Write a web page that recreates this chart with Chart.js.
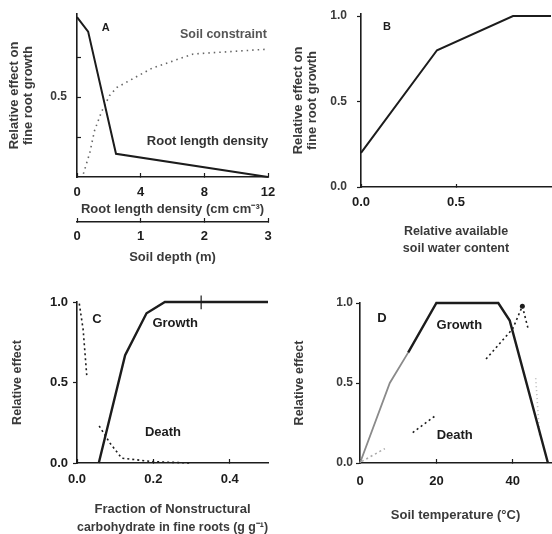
<!DOCTYPE html>
<html>
<head>
<title>Fine root growth response curves</title>
<style>
    html, body { margin: 0; padding: 0; background: #fff; overflow: hidden; }
    #wrap { position: relative; width: 552px; height: 534px; }
    canvas { position: absolute; }
    #panelA { left: 0; top: 0; }
    #panelB { left: 276px; top: 0; }
    #panelC { left: 0; top: 262px; }
    #panelD { left: 276px; top: 262px; }
</style>
</head>
<body>
<div id="wrap">
    <canvas id="panelA" width="276" height="267"></canvas>
    <canvas id="panelB" width="276" height="267"></canvas>
    <canvas id="panelC" width="276" height="280"></canvas>
    <canvas id="panelD" width="276" height="280"></canvas>
</div>

<script src="https://cdn.jsdelivr.net/npm/chart.js"></script>

<script>
    // ---- Panel A: root length density / soil depth
    const aRootX = [0, 0.7, 2.45, 12];
    const aRootY = [1.0, 0.91, 0.145, 0];
    const aSoilX = [0.4, 0.8, 1.1, 1.55, 2.05, 2.5, 4.7, 7.3, 12];
    const aSoilY = [0.02, 0.15, 0.29, 0.41, 0.51, 0.56, 0.68, 0.77, 0.8];
    const aXTicks = [0, 4, 8, 12];
    const aXLabels = ['0', '4', '8', '12'];
    const aDepthTicks = [0, 1, 2, 3];
    const aDepthLabels = ['0', '1', '2', '3'];
    const aYTicks = [0.25, 0.5, 0.75];
    const aYLabels = ['', '0.5', ''];

    // ---- Panel B: relative available soil water
    const bWaterX = [0, 0.4, 0.8, 1.0];
    const bWaterY = [0.2, 0.8, 1.0, 1.0];
    const bXTicks = [0, 0.5];
    const bXLabels = ['0.0', '0.5'];
    const bYTicks = [0, 0.5, 1];
    const bYLabels = ['0.0', '0.5', '1.0'];

    // ---- Panel C: nonstructural carbohydrate
    const cGrowthX = [0.057, 0.126, 0.182, 0.23, 0.5];
    const cGrowthY = [0, 0.67, 0.93, 1.0, 1.0];
    const cDeathTopX = [0.006, 0.016, 0.026];
    const cDeathTopY = [0.99, 0.83, 0.53];
    const cDeathX = [0.058, 0.086, 0.117, 0.2, 0.3];
    const cDeathY = [0.23, 0.125, 0.03, 0.008, 0];
    const cMarkX = [0.325, 0.325];
    const cMarkY = [0.955, 1.04];
    const cXTicks = [0, 0.2, 0.4];
    const cXLabels = ['0.0', '0.2', '0.4'];
    const cYTicks = [0, 0.5, 1];
    const cYLabels = ['0.0', '0.5', '1.0'];

    // ---- Panel D: soil temperature
    const dGrowLowX = [0, 7.8, 12.6];
    const dGrowLowY = [0, 0.5, 0.69];
    const dGrowX = [12.6, 20, 36.2, 39.2, 49.2];
    const dGrowY = [0.69, 1.0, 1.0, 0.89, 0];
    const dDeathLowX = [0.5, 6.5];
    const dDeathLowY = [0.01, 0.09];
    const dDeathMidX = [13.8, 20];
    const dDeathMidY = [0.19, 0.3];
    const dDeathHighX = [33, 40, 42.5, 44];
    const dDeathHighY = [0.65, 0.84, 0.98, 0.84];
    const dDeathEdgeX = [46, 47];
    const dDeathEdgeY = [0.53, 0.17];
    const dXTicks = [0, 20, 40];
    const dXLabels = ['0', '20', '40'];
    const dYTicks = [0, 0.5, 1];
    const dYLabels = ['0.0', '0.5', '1.0'];

    const INK = '#1c1c1c';
    const INK2 = '#3a3a3a';
    const FONT = '"Liberation Sans", Arial, Helvetica, sans-serif';
    const DOT = { borderDash: [2, 3], borderWidth: 1.6 };

    function pts(xs, ys) {
        return xs.map((x, i) => ({ x: x, y: ys[i] }));
    }

    function line(xs, ys, style) {
        return Object.assign({
            data: pts(xs, ys),
            borderColor: INK,
            borderWidth: 2.2,
            pointRadius: 0,
            tension: 0,
            fill: false,
            clip: false
        }, style || {});
    }

    // fixed-size axis so every plot area lands where the figure has it
    function axis(o) {
        return {
            type: 'linear',
            position: o.pos,
            weight: o.weight || 0,
            min: o.min,
            max: o.max,
            afterBuildTicks: s => { s.ticks = o.ticks.map(v => ({ value: v })); },
            afterFit: s => {
                if (s.isHorizontal()) s.height = o.size;
                else s.width = o.size;
                // don't let label padding push the plot area around
                s.paddingTop = s.paddingBottom = s.paddingLeft = s.paddingRight = 0;
            },
            border: { display: true, color: INK, width: 1.6 },
            grid: {
                display: true,
                drawOnChartArea: false,
                drawTicks: true,
                tickLength: o.tick,
                tickWidth: 1.2,
                tickColor: INK,
                color: INK
            },
            ticks: {
                autoSkip: false,
                maxRotation: 0,
                padding: o.pad,
                color: o.tickColor || INK,
                font: { family: FONT, size: o.tickSize || 13, weight: 'bold' },
                callback: (v, i) => o.labels[i]
            },
            title: {
                display: true,
                text: o.title,
                color: INK2,
                font: { family: FONT, size: o.titleSize || 13, weight: 'bold', lineHeight: o.titleLH || 1.2 },
                padding: o.titlePad
            }
        };
    }

    const textPlugin = {
        id: 'panelText',
        afterDatasetsDraw(chart, args, opts) {
            const { ctx, scales } = chart;
            ctx.save();
            ctx.textAlign = 'center';
            ctx.textBaseline = 'middle';
            for (const t of opts.items || []) {
                ctx.font = 'bold ' + (t.size || 13) + 'px ' + FONT;
                ctx.fillStyle = t.color || INK;
                ctx.fillText(t.text, scales.x.getPixelForValue(t.x), scales.y.getPixelForValue(t.y));
            }
            ctx.restore();
        }
    };

    function panel(id, padding, scales, datasets, labels) {
        return new Chart(document.getElementById(id), {
            type: 'line',
            data: { datasets: datasets },
            options: {
                responsive: false,
                animation: false,
                events: [],
                layout: { padding: padding },
                plugins: {
                    legend: { display: false },
                    tooltip: { enabled: false },
                    panelText: { items: labels }
                },
                scales: scales
            },
            plugins: [textPlugin]
        });
    }

    // A
    panel('panelA', { left: 0, top: 14, right: 8, bottom: 0 }, {
        x: axis({ pos: 'bottom', min: 0, max: 12, ticks: aXTicks, labels: aXLabels, size: 45,
                  tick: -4, pad: 12, title: 'Root length density (cm cm\u207B\u00B3)', titlePad: 5 }),
        x2: axis({ pos: 'bottom', weight: 1, min: 0, max: 3, ticks: aDepthTicks, labels: aDepthLabels, size: 45,
                   tick: -4, pad: 11, title: 'Soil depth (m)', titlePad: 2 }),
        y: axis({ pos: 'left', min: 0, max: 1.02, ticks: aYTicks, labels: aYLabels, size: 77,
                  tick: -4, pad: 14, tickSize: 12, tickColor: INK2,
                  title: ['Relative effect on', 'fine root growth'], titleLH: 1.1, titlePad: 7 })
    }, [
        line(aRootX, aRootY, { borderWidth: 2 }),
        line(aSoilX, aSoilY, { borderColor: '#666', borderDash: [1.5, 4], borderWidth: 1.6 })
    ], [
        { text: 'A', x: 1.8, y: 0.93, size: 11 },
        { text: 'Soil constraint', x: 9.2, y: 0.89, size: 12.5, color: '#555' },
        { text: 'Root length density', x: 8.2, y: 0.22, size: 13, color: '#333' }
    ]);

    // B
    panel('panelB', { left: 0, top: 14, right: 1, bottom: 0 }, {
        x: axis({ pos: 'bottom', min: 0, max: 1, ticks: bXTicks, labels: bXLabels, size: 80,
                  tick: -3, pad: 11, title: ['Relative available', 'soil water content'],
                  titleSize: 12.5, titleLH: 1.35, titlePad: 10.5 }),
        y: axis({ pos: 'left', min: 0, max: 1.012, ticks: bYTicks, labels: bYLabels, size: 85,
                  tick: 4, pad: 10, tickSize: 12, tickColor: INK2,
                  title: ['Relative effect on', 'fine root growth'], titleLH: 1.1, titlePad: 15 })
    }, [
        line(bWaterX, bWaterY, { borderWidth: 2 })
    ], [
        { text: 'B', x: 0.137, y: 0.936, size: 11 }
    ]);

    // C
    panel('panelC', { left: 0, top: 40, right: 8, bottom: 0 }, {
        x: axis({ pos: 'bottom', min: 0, max: 0.5, ticks: cXTicks, labels: cXLabels, size: 79,
                  tick: -4, pad: 13, title: ['Fraction of Nonstructural', 'carbohydrate in fine roots (g g\u207B\u00B9)'],
                  titleLH: 1.4, titlePad: 5 }),
        y: axis({ pos: 'left', min: 0, max: 1, ticks: cYTicks, labels: cYLabels, size: 77,
                  tick: 4, pad: 5, title: 'Relative effect', titleSize: 12.5, titlePad: 10.5 })
    }, [
        line(cGrowthX, cGrowthY, { borderWidth: 2.4 }),
        line(cDeathTopX, cDeathTopY, DOT),
        line(cDeathX, cDeathY, DOT),
        line(cMarkX, cMarkY, { borderWidth: 1.2 })
    ], [
        { text: 'C', x: 0.052, y: 0.894 },
        { text: 'Growth', x: 0.257, y: 0.87 },
        { text: 'Death', x: 0.225, y: 0.19 }
    ]);

    // D
    panel('panelD', { left: 0, top: 41, right: 1, bottom: 0 }, {
        x: axis({ pos: 'bottom', min: 0, max: 50, ticks: dXTicks, labels: dXLabels, size: 79,
                  tick: -4, pad: 15, title: 'Soil temperature (\u00B0C)', titlePad: 19 }),
        y: axis({ pos: 'left', min: 0, max: 1, ticks: dYTicks, labels: dYLabels, size: 84,
                  tick: 4, pad: 3, tickSize: 12, tickColor: INK2, title: 'Relative effect',
                  titleSize: 12.5, titlePad: 16.5 })
    }, [
        line(dGrowLowX, dGrowLowY, { borderColor: '#8a8a8a', borderWidth: 1.8 }),
        line(dGrowX, dGrowY, { borderWidth: 2.4 }),
        line(dDeathLowX, dDeathLowY, Object.assign({}, DOT, { borderColor: '#aaa' })),
        line(dDeathMidX, dDeathMidY, DOT),
        line(dDeathHighX, dDeathHighY, Object.assign({}, DOT, {
            pointRadius: [0, 0, 2.5, 0], pointBackgroundColor: INK, pointBorderWidth: 0
        })),
        line(dDeathEdgeX, dDeathEdgeY, Object.assign({}, DOT, { borderColor: '#bbb', borderDash: [1, 3] }))
    ], [
        { text: 'D', x: 5.75, y: 0.906 },
        { text: 'Growth', x: 26, y: 0.86 },
        { text: 'Death', x: 24.8, y: 0.175 }
    ]);
</script>
</body>
</html>
